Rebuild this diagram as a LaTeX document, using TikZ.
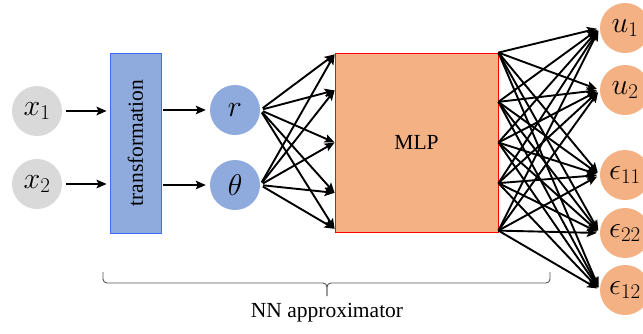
\RequirePackage{fix-cm}
\documentclass[tikz,border=0pt]{standalone}
\usepackage[no-math]{fontspec}
\setmainfont{Liberation Serif}
\usepackage{xcolor}
\usetikzlibrary{arrows.meta,calc,positioning}

\definecolor{nodegray}{HTML}{D9D9D9}
\definecolor{nodeblue}{HTML}{8FAADC}
\definecolor{nodeorange}{HTML}{F4B183}
\definecolor{boxblue}{HTML}{3D6BFF}
\definecolor{bracegray}{HTML}{555555}

\tikzset{
  innode/.style={circle, fill=nodegray, minimum size=50pt, inner sep=0pt, font=\fontsize{30}{36}\selectfont},
  featnode/.style={circle, fill=nodeblue, minimum size=50pt, inner sep=0pt, font=\fontsize{30}{36}\selectfont},
  outnode/.style={circle, fill=nodeorange, minimum size=50pt, inner sep=0pt, font=\fontsize{30}{36}\selectfont},
  conn/.style={-{Stealth[length=10pt, width=8.5pt, inset=2pt]}, line width=1.9pt},
  bracestyle/.style={draw=bracegray, line width=0.9pt, rounded corners=4pt}
}

\begin{document}
\begin{tikzpicture}[x=1pt, y=-1pt]
        \useasboundingbox (0,0) rectangle (643,333);

        % Input and feature nodes
        \node (x1) [innode] at (37,111) {$x_1$};
        \node (x2) [innode] at (37,184) {$x_2$};
        \node (r) [featnode] at (235,110) {$r$};
        \node (theta) [featnode] at (235,185) {$\theta$};

        % Model nodes
        \node (transformation) [draw=boxblue, fill=nodeblue, line width=0.8pt, minimum width=180pt, minimum height=51pt, rotate=90, font=\fontsize{21.5}{26}\selectfont] at (135.5,143) {transformation};
        \node (mlp) [draw=red, fill=nodeorange, line width=0.8pt, minimum width=163pt, minimum height=179pt, font=\fontsize{21.5}{26}\selectfont] at (416.5,142.5) {MLP};

        % Output nodes
        \node (u1) [outnode] at (625,28) {$u_1$};
        \node (u2) [outnode] at (625,90) {$u_2$};
        \node (e11) [outnode] at (625,175) {$\epsilon_{11}$};
        \node (e22) [outnode] at (625,233) {$\epsilon_{22}$};
        \node (e12) [outnode] at (625,290) {$\epsilon_{12}$};

        % Arrows
        \draw[conn, shorten <=4pt, shorten >=3pt] (x1) -- (x1 -| transformation.north);
        \draw[conn, shorten <=4pt, shorten >=3pt] (x2) -- (x2 -| transformation.north);
        \draw[conn, shorten <=2pt, shorten >=4pt] (r -| transformation.south) -- (r);
        \draw[conn, shorten <=2pt, shorten >=4pt] (theta -| transformation.south) -- (theta);
        \foreach \f in {0.01,0.21,0.5,0.78,0.98} {
            \draw[conn, shorten <=3pt] (r.east) -- ($(mlp.north west)!\f!(mlp.south west)$);
            \draw[conn, shorten <=3pt] (theta.east) -- ($(mlp.north west)!\f!(mlp.south west)$);
        }
        \foreach \f in {0,0.274,0.5,0.726,0.99} {
            \foreach \o in {u1,u2,e11,e22,e12}
                \draw[conn, shorten >=3pt] ($(mlp.north east)!\f!(mlp.south east)$) -- (\o.west);
        }

        % Brace
        \coordinate (braceL) at (103,272);
        \coordinate (braceR) at (550,272);
        \coordinate (braceM) at (327,296);
        \draw[bracestyle] (braceL) -- ++(0,11) -| (braceM);
        \draw[bracestyle] (braceR) -- ++(0,11) -| (braceM);
        \node (nnlabel) at (327,313) [font=\fontsize{21.5}{26}\selectfont] {NN approximator};

\end{tikzpicture}
\end{document}
